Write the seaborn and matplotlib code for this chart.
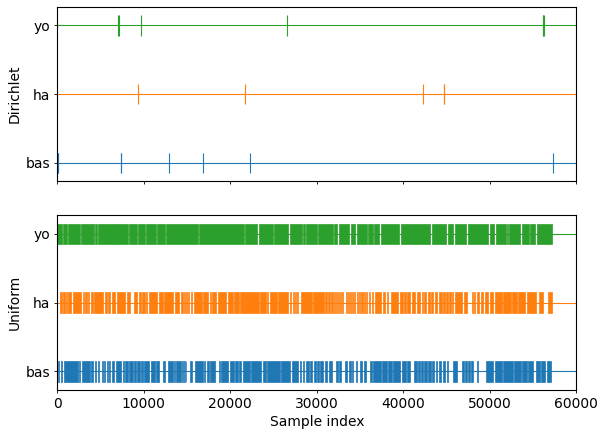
import matplotlib
matplotlib.use("Agg")
import matplotlib.pyplot as plt
import seaborn as sns

# Row order from bottom to top
languages = ["bas", "ha", "yo"]
colors = sns.color_palette("tab10")[:3]  # blue, orange, green

# Sample indices drawn for each language under Dirichlet sampling
dirichlet_bas = [40, 110, 7330, 7420, 12880, 16790, 22320, 57250]
dirichlet_ha = [9380, 21750, 42310, 44650, 44740]
dirichlet_yo = [7060, 7170, 9640, 26580, 56100, 56190, 56280]

# Occupied index ranges (start, end) for each language under uniform sampling
uniform_bas = [
    (116, 231), (393, 509), (740, 2358), (2509, 2659), (2821, 3745), (3896, 4162),
    (4393, 4508), (4670, 4820), (5133, 5283), (5399, 5514), (5711, 5826), (6011, 6127),
    (6358, 6589), (6751, 7398), (7560, 7676), (7791, 8173), (8289, 8716), (8832, 9063),
    (9213, 9595), (9710, 9872), (10023, 10635), (10797, 11329), (11444, 11791),
    (12184, 12485), (12762, 13375), (13456, 13571), (13756, 14334), (14415, 14496),
    (14612, 14727), (14843, 14912), (15340, 15571), (15918, 16808), (16924, 17074),
    (17271, 17571), (17687, 18230), (18658, 18843), (18924, 19351), (19421, 19698),
    (19929, 20392), (20507, 20854), (21039, 21270), (21432, 22276), (22357, 23513),
    (23814, 24160), (24276, 25744), (25825, 26900), (27166, 27860), (28056, 28206),
    (28368, 28518), (28715, 29096), (29247, 29443), (29640, 29906), (30056, 30252),
    (30368, 30753), (30946, 31216), (31447, 31717), (32217, 32410), (32603, 32757),
    (33258, 33527), (33682, 33913), (34067, 34221), (34530, 34683), (34992, 35184),
    (35492, 35685), (36148, 36340), (36533, 37380), (37496, 38074), (38190, 38652),
    (38806, 39615), (39846, 40309), (40463, 40771), (41272, 41542), (41657, 41927),
    (42081, 42312), (42428, 42698), (42890, 43160), (43276, 43545), (43776, 43930),
    (44162, 44316), (44624, 44817), (45009, 45202), (45780, 46165), (46743, 47013),
    (47167, 47321), (47475, 47707), (47861, 48092), (48477, 48670), (49517, 50404),
    (50558, 51367), (51560, 52715), (52792, 53563), (53717, 54257), (54411, 55028),
    (55297, 55798), (55952, 56376), (56569, 57031),
]
uniform_ha = [
    (277, 509), (659, 890), (1006, 1121), (1272, 1584), (1780, 2740), (2936, 3052),
    (3202, 3399), (3549, 3699), (3861, 4092), (4277, 5318), (5514, 5711), (5896, 6092),
    (6289, 6670), (6867, 7791), (8057, 8369), (8867, 9248), (9410, 9641), (9791, 10103),
    (10288, 10404), (10600, 11525), (11757, 12219), (12300, 13375), (13571, 14068),
    (14265, 14531), (14612, 14727), (14843, 14958), (15074, 15225), (15421, 15606),
    (15803, 16693), (16843, 17386), (17653, 17768), (17918, 18311), (18542, 19502),
    (19733, 20276), (20427, 20970), (21155, 23282), (23397, 24091), (24207, 24322),
    (24553, 25359), (25520, 26676), (26906, 27022), (27212, 27328), (27443, 27594),
    (27709, 27860), (28138, 29440), (29560, 30830), (30946, 31139), (31293, 31524),
    (31678, 31832), (31986, 32140), (32256, 32372), (32487, 32603), (32718, 32834),
    (32950, 33065), (33373, 33450), (33604, 33759), (33874, 33990), (34105, 34221),
    (34336, 34452), (34606, 34722), (34837, 34953), (35069, 35300), (35454, 35608),
    (35724, 35839), (35993, 36148), (36340, 36533), (36725, 37419), (37612, 37881),
    (38074, 38267), (38536, 39345), (39615, 39923), (40078, 40309), (40463, 40771),
    (41002, 41388), (41542, 41927), (42120, 42312), (42428, 42621), (42813, 43083),
    (43237, 43468), (43699, 43853), (44085, 44431), (44586, 44817), (44971, 45125),
    (45279, 45472), (45626, 45780), (45973, 46820), (47013, 47321), (47899, 48015),
    (48130, 48284), (48477, 48785), (48939, 49247), (49401, 49826), (50018, 50404),
    (50596, 51367), (51483, 52407), (52561, 53101), (53255, 54064), (54257, 55336),
    (55682, 56106), (56723, 57146),
]
uniform_yo = [
    (0, 543), (624, 1156), (1272, 2659), (2740, 4092), (4127, 4243), (4323, 4624),
    (4740, 6520), (6589, 8173), (8289, 9179), (9329, 10103), (10254, 11375),
    (11525, 12450), (12600, 16230), (16381, 21548), (21698, 23120), (23317, 24900),
    (25050, 26669), (26865, 28287), (28403, 28599), (28750, 29987), (30171, 31832),
    (31986, 32372), (32564, 33759), (33951, 34414), (34606, 35762), (35955, 36456),
    (36610, 37227), (37419, 39461), (39692, 43121), (43314, 44932), (45125, 45780),
    (45973, 47244), (47436, 49826), (50018, 50519), (50673, 51829), (52022, 52137),
    (52253, 53486), (53679, 54526), (54680, 55220), (55413, 57146),
]

x_max = 60000
x_ticks = [0, 10000, 20000, 30000, 40000, 50000, 60000]

sns.set_theme(style="ticks", rc={
    "font.size": 10,
    "axes.labelsize": 10,
    "xtick.labelsize": 10,
    "ytick.labelsize": 10,
    "axes.edgecolor": "black",
    "axes.linewidth": 0.8,
    "xtick.color": "black",
    "ytick.color": "black",
    "xtick.major.size": 2.5,
    "ytick.major.size": 2.5,
    "xtick.major.pad": 2.5,
    "ytick.major.pad": 2.5,
    "xtick.major.width": 0.6,
    "ytick.major.width": 0.6,
    "axes.labelpad": 2.9,
    "text.color": "black",
    "axes.labelcolor": "black",
})
plt.rcParams["font.family"] = ["DejaVu Sans"]

fig, (ax_d, ax_u) = plt.subplots(2, 1, figsize=(6.01, 4.29), dpi=100, sharex=True)
fig.subplots_adjust(left=0.0953, right=0.959, top=0.984, bottom=0.091, hspace=0.195)

mark_len = 0.3

# Dirichlet: individual sampled indices as event ticks
dirichlet = [dirichlet_bas, dirichlet_ha, dirichlet_yo]
for row, (events, color) in enumerate(zip(dirichlet, colors)):
    ax_d.axhline(row, color=color, linewidth=0.8, zorder=1)
    ax_d.eventplot(events, lineoffsets=row, linelengths=mark_len,
                   linewidths=0.8, colors=[color], zorder=2)

# Uniform: dense runs of sampled indices
uniform = [uniform_bas, uniform_ha, uniform_yo]
for row, (spans, color) in enumerate(zip(uniform, colors)):
    ax_u.axhline(row, color=color, linewidth=0.8, zorder=1)
    ax_u.broken_barh([(a, b - a) for a, b in spans],
                     (row - mark_len / 2, mark_len),
                     facecolors=color, edgecolors=color, linewidth=0.5, zorder=2)

for ax, name in [(ax_d, "Dirichlet"), (ax_u, "Uniform")]:
    ax.set_yticks(range(len(languages)))
    ax.set_yticklabels(languages)
    ax.set_ylim(-0.27, 2.27)
    ax.set_xlim(0, x_max)
    ax.set_ylabel(name)
    for side in ["top", "right", "left", "bottom"]:
        ax.spines[side].set_visible(True)

ax_u.set_xticks(x_ticks)
ax_u.set_xlabel("Sample index")
ax_d.tick_params(labelbottom=False)

fig.savefig("out.png", dpi=100)
